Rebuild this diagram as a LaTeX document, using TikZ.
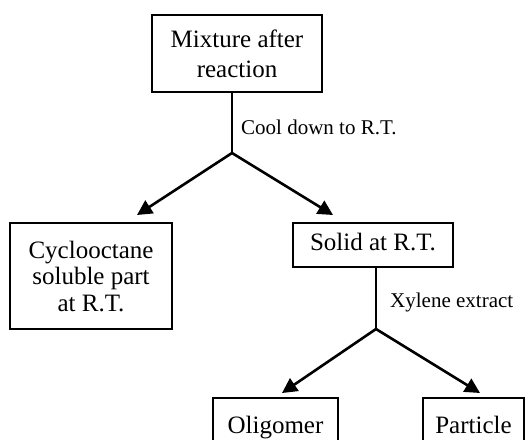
\documentclass[tikz,border=0pt]{standalone}
\usepackage{fontspec}
\setmainfont{Liberation Serif}
\usetikzlibrary{arrows.meta}
\begin{document}
\begin{tikzpicture}[x=1pt,y=-1pt,
  box/.style={draw,line width=1.3pt,inner sep=0pt,align=center,font=\fontsize{25}{30}\selectfont},
  onerow/.style={text height=17.5pt,text depth=6.25pt},
  lbl/.style={anchor=west,inner sep=0pt,font=\fontsize{21}{24}\selectfont},
  stem/.style={line width=1.3pt},
  branch/.style={line width=2.6pt,-{Triangle[length=15pt,width=15pt]}}]
\useasboundingbox (0,0) rectangle (526,439);
\clip (0,0) rectangle (526,439);
\node[box,minimum width=170pt,minimum height=77pt] (top) at (237,53.5) {Mixture after\\reaction};
\node[box,minimum width=162pt,minimum height=106pt,font=\fontsize{25}{26.5}\selectfont] (left) at (91,276) {Cyclooctane\\soluble part\\at R.T.};
\node[box,onerow,minimum width=160pt,minimum height=44pt] (solid) at (373,245) {Solid at R.T.};
\node[box,onerow,minimum width=125pt,minimum height=60pt] (olig) at (275.5,428) {Oligomer};
\node[box,onerow,minimum width=101pt,minimum height=60pt] (part) at (473.5,428) {Particle};
\coordinate (j1) at (232,153);
\coordinate (j2) at (376,329);
\coordinate (t1) at (137,215);
\coordinate (t2) at (333,215);
\coordinate (t3) at (282,393);
\coordinate (t4) at (480,393);
\draw[stem] (top.south -| j1) -- (j1);
\draw[branch] (j1) -- (t1);
\draw[branch] (j1) -- (t2);
\draw[stem] (solid.south -| j2) -- (j2);
\draw[branch] (j2) -- (t3);
\draw[branch] (j2) -- (t4);
\node[lbl] (l1) at (241,127) {Cool down to R.T.};
\node[lbl] (l2) at (390,302) {Xylene extract};
\end{tikzpicture}
\end{document}
